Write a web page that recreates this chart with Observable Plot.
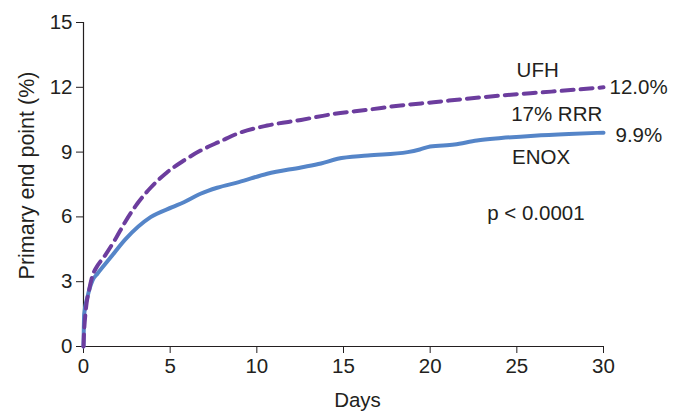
<!DOCTYPE html>
<html>
<head>
<meta charset="utf-8">
<script src="https://cdn.jsdelivr.net/npm/d3@7"></script>
<script src="https://cdn.jsdelivr.net/npm/@observablehq/plot@0.6"></script>
<style>
  html, body { margin: 0; padding: 0; background: #ffffff; }
  #chart { width: 678px; height: 412px; }
</style>
</head>
<body>
<div id="chart"></div>
<script>
// UFH (dashed purple)
const ufhDays = [0, 0.02, 0.13, 0.32, 0.52, 0.7, 1.23, 1.86, 2.43, 3.11, 3.87, 4.83, 5.79, 6.75, 7.9, 8.96, 10.6, 12.55, 14.46, 16.4, 18.3, 20.2, 22.1, 24.1, 27, 30];
const ufhValues = [0, 0.43, 1.67, 2.6, 3.29, 3.6, 4.2, 5.0, 5.8, 6.62, 7.35, 8.07, 8.61, 9.07, 9.5, 9.88, 10.23, 10.49, 10.77, 10.96, 11.16, 11.31, 11.47, 11.62, 11.8, 12.0];

// ENOX (solid blue)
const enoxDays = [0, 0.04, 0.23, 0.52, 0.8, 1.57, 2.4, 3.87, 5.12, 5.79, 6.75, 7.71, 8.96, 10.6, 12.55, 13.7, 14.66, 16.4, 18.7, 19.4, 20.0, 21.4, 22.7, 24.1, 26, 28, 30];
const enoxValues = [0, 1.5, 2.3, 3.06, 3.37, 4.13, 4.95, 5.99, 6.45, 6.68, 7.07, 7.35, 7.61, 8.0, 8.29, 8.47, 8.69, 8.84, 9.0, 9.12, 9.26, 9.35, 9.54, 9.65, 9.76, 9.84, 9.9];

// Tick labels
const xTicks = [0, 5, 10, 15, 20, 25, 30];
const yTicks = [0, 3, 6, 9, 12, 15];

// Axis titles
const xTitle = "Days";
const yTitle = "Primary end point (%)";

// Annotations
const noteText = ["UFH", "17% RRR", "ENOX", "p < 0.0001"];
const noteX = [26.2, 27.3, 26.4, 26.1];
const noteY = [12.78, 10.76, 8.75, 6.15];

const endText = ["12.0%", "9.9%"];
const endX = [30, 30];
const endY = [12.0, 9.75];
const endDx = [6, 12];

const ufh = ufhDays.map((d, i) => ({day: d, value: ufhValues[i]}));
const enox = enoxDays.map((d, i) => ({day: d, value: enoxValues[i]}));
const notes = noteText.map((t, i) => ({text: t, x: noteX[i], y: noteY[i]}));
const ends = endText.map((t, i) => ({text: t, x: endX[i], y: endY[i], dx: endDx[i]}));

const ink = "#231f20";
const font = "'Liberation Sans', Arial, Helvetica, sans-serif";
const fs = 20.5;

const chart = Plot.plot({
  width: 678,
  height: 412,
  marginLeft: 83,
  marginRight: 75,
  marginTop: 22,
  marginBottom: 66,
  style: {fontFamily: font, fontSize: fs + "px", color: ink, background: "#ffffff", overflow: "visible"},
  x: {domain: [0, 30]},
  y: {domain: [0, 15]},
  marks: [
    Plot.axisX({ticks: xTicks, tickSize: 7, tickPadding: 5, stroke: ink, fill: ink, fontSize: fs, label: null}),
    Plot.axisY({ticks: yTicks, tickSize: 7, tickPadding: 4, stroke: ink, fill: ink, fontSize: fs, label: null}),
    Plot.text([xTitle], {frameAnchor: "bottom", textAnchor: "middle", dx: 14, dy: 54, fill: ink, fontSize: fs, lineAnchor: "middle"}),
    Plot.text([yTitle], {frameAnchor: "left", textAnchor: "middle", rotate: -90, dx: -56, dy: -9, fill: ink, fontSize: 21.5, lineAnchor: "middle"}),
    Plot.ruleY([0], {stroke: ink, strokeWidth: 1.2}),
    Plot.ruleX([0], {stroke: ink, strokeWidth: 1.2}),
    Plot.line(enox, {x: "day", y: "value", stroke: "#5585c8", strokeWidth: 4, curve: "monotone-x"}),
    Plot.line(ufh, {x: "day", y: "value", stroke: "#6c3d9e", strokeWidth: 4, strokeDasharray: "12,7", curve: "monotone-x"}),
    Plot.text(notes, {x: "x", y: "y", text: "text", fill: ink, fontSize: fs, textAnchor: "middle"}),
    Plot.text(ends.filter(d => d.dx === 6), {x: "x", y: "y", text: "text", fill: ink, fontSize: fs, textAnchor: "start", dx: 6}),
    Plot.text(ends.filter(d => d.dx === 12), {x: "x", y: "y", text: "text", fill: ink, fontSize: fs, textAnchor: "start", dx: 12})
  ]
});
document.getElementById("chart").appendChild(chart);
</script>
</body>
</html>
